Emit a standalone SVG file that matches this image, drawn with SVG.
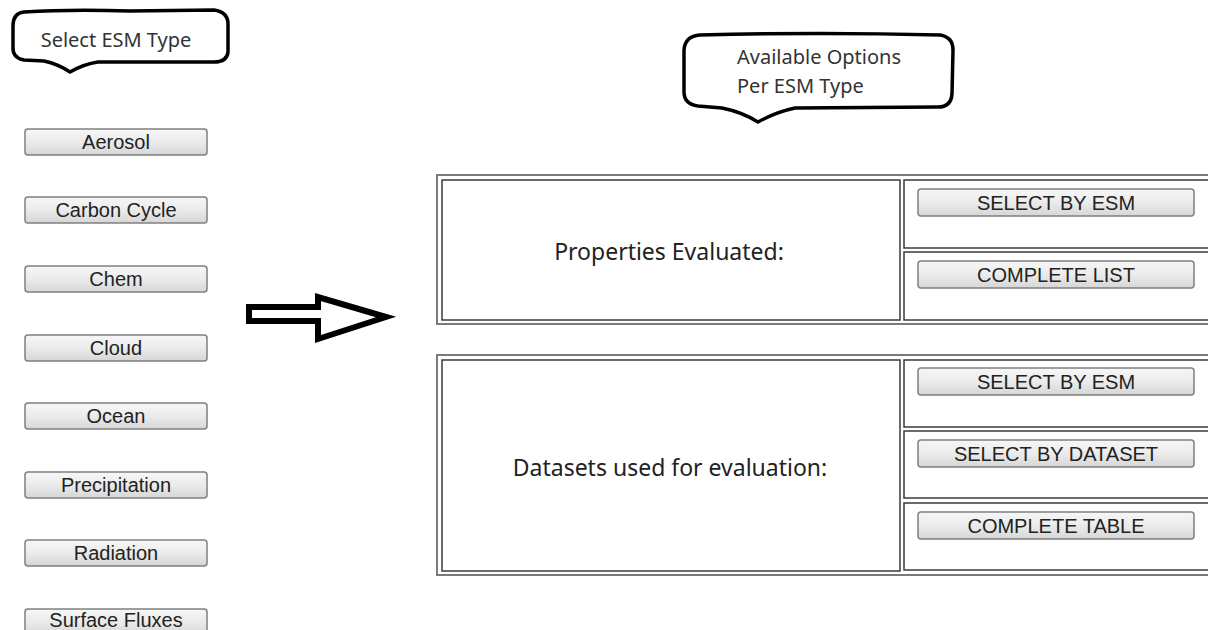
<svg xmlns="http://www.w3.org/2000/svg" width="1208" height="630" viewBox="0 0 1208 630">
<defs>
<linearGradient id="btnGrad" x1="0" y1="0" x2="0" y2="1">
<stop offset="0" stop-color="#f7f7f7"/>
<stop offset="0.5" stop-color="#ebebeb"/>
<stop offset="1" stop-color="#d6d6d6"/>
</linearGradient>
</defs>
<style>
.btn{fill:url(#btnGrad);stroke:#808080;stroke-width:1.5}
.btxt{font-family:"Liberation Sans",Arial,sans-serif;font-size:20px;fill:#222;text-anchor:middle}
.bubble{fill:#fff;stroke:#000;stroke-width:3.5;stroke-linejoin:round}
.btext{font-family:"Noto Sans","Open Sans",sans-serif;font-size:20px;fill:#333}
.outer{fill:none;stroke:#7a7a7a;stroke-width:2}
.cell{fill:#fff;stroke:#3a3a3a;stroke-width:1.5}
.label{font-family:"Noto Sans","Open Sans",sans-serif;font-size:23px;fill:#222;text-anchor:middle}
</style>
<rect width="1208" height="630" fill="#fff"/>

<g id="callout-select">
<path class="bubble" d="M24,12 Q70,9 130,11 L214,10 Q228,12 228,24 L228,52 Q227,62 214,62 L98,62 Q84,64 70,72 Q58,64 44,61 L24,60 Q12,58 13,46 L13,26 Q13,13 24,12 Z"/>
<text class="btext" x="116" y="47" text-anchor="middle">Select ESM Type</text>
</g>

<g id="callout-options">
<path class="bubble" d="M700,35 Q820,32 940,35 Q953,37 953,50 L952,94 Q951,107 938,107 L795,108 Q776,112 758,122 Q742,112 722,108 L698,106 Q684,104 684,92 L684,50 Q685,36 700,35 Z"/>
<text class="btext" x="737" y="64">Available Options</text>
<text class="btext" x="737" y="93">Per ESM Type</text>
</g>

<g id="esm-buttons">
<g id="btn-aerosol"><rect class="btn" x="25" y="129" width="182" height="26" rx="3"/><text class="btxt" x="116" y="149">Aerosol</text></g>
<g id="btn-carbon"><rect class="btn" x="25" y="197" width="182" height="26" rx="3"/><text class="btxt" x="116" y="217">Carbon Cycle</text></g>
<g id="btn-chem"><rect class="btn" x="25" y="266" width="182" height="26" rx="3"/><text class="btxt" x="116" y="286">Chem</text></g>
<g id="btn-cloud"><rect class="btn" x="25" y="335" width="182" height="26" rx="3"/><text class="btxt" x="116" y="355">Cloud</text></g>
<g id="btn-ocean"><rect class="btn" x="25" y="403" width="182" height="26" rx="3"/><text class="btxt" x="116" y="423">Ocean</text></g>
<g id="btn-precip"><rect class="btn" x="25" y="472" width="182" height="26" rx="3"/><text class="btxt" x="116" y="492">Precipitation</text></g>
<g id="btn-radiation"><rect class="btn" x="25" y="540" width="182" height="26" rx="3"/><text class="btxt" x="116" y="560">Radiation</text></g>
<g id="btn-surface"><rect class="btn" x="25" y="609" width="182" height="26" rx="3"/><text class="btxt" x="116" y="627">Surface Fluxes</text></g>
</g>

<g id="connectors">
<path d="M249,307 L318,307 L318,297 L386,317 L318,339 L318,321 L249,321 Z" fill="#fff" stroke="#000" stroke-width="6" stroke-linejoin="miter"/>
</g>

<g id="table-properties">
<rect class="outer" x="437" y="175" width="790" height="149"/>
<rect class="cell" x="442" y="180" width="458" height="140"/>
<text class="label" x="669" y="260">Properties Evaluated:</text>
<rect class="cell" x="904" y="180" width="320" height="68"/>
<rect class="cell" x="904" y="252" width="320" height="68"/>
<g id="btn-prop-esm"><rect class="btn" x="918" y="189" width="276" height="27" rx="3"/><text class="btxt" x="1056" y="210">SELECT BY ESM</text></g>
<g id="btn-prop-list"><rect class="btn" x="918" y="261" width="276" height="27" rx="3"/><text class="btxt" x="1056" y="282">COMPLETE LIST</text></g>
</g>

<g id="table-datasets">
<rect class="outer" x="437" y="355" width="790" height="220"/>
<rect class="cell" x="442" y="360" width="458" height="211"/>
<text class="label" x="670" y="476">Datasets used for evaluation:</text>
<rect class="cell" x="904" y="360" width="320" height="67"/>
<rect class="cell" x="904" y="431" width="320" height="67"/>
<rect class="cell" x="904" y="503" width="320" height="67"/>
<g id="btn-data-esm"><rect class="btn" x="918" y="368" width="276" height="27" rx="3"/><text class="btxt" x="1056" y="389">SELECT BY ESM</text></g>
<g id="btn-data-dataset"><rect class="btn" x="918" y="440" width="276" height="27" rx="3"/><text class="btxt" x="1056" y="461">SELECT BY DATASET</text></g>
<g id="btn-data-table"><rect class="btn" x="918" y="512" width="276" height="27" rx="3"/><text class="btxt" x="1056" y="533">COMPLETE TABLE</text></g>
</g>
</svg>
